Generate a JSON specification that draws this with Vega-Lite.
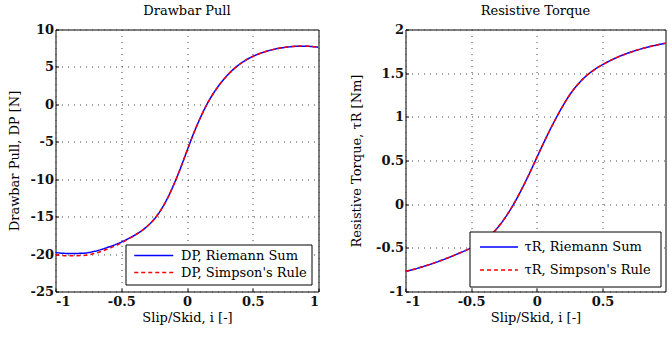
{
  "$schema": "https://vega.github.io/schema/vega-lite/v6.json",
  "padding": {"left": 7.5, "top": 3.5, "right": 0, "bottom": 0},
  "background": "white",
  "config": {
    "font": "DejaVu Serif",
    "view": {"stroke": "black", "strokeWidth": 1},
    "axis": {"labelFont": "DejaVu Serif", "labelFontSize": 13, "labelFontWeight": "bold", "labelColor": "#111", "titleFont": "DejaVu Serif", "titleFontSize": 13, "titleFontWeight": "normal", "titleColor": "black", "domain": false, "ticks": true, "tickSize": -3, "tickColor": "black", "gridColor": "#444", "gridDash": [1, 5], "gridWidth": 1, "gridOpacity": 1},
    "title": {"font": "DejaVu Serif", "fontSize": 13, "fontWeight": "normal", "color": "black", "anchor": "middle", "frame": "group", "baseline": "alphabetic", "offset": 6},
    "legend": {"labelFont": "DejaVu Serif", "labelFontSize": 13, "labelColor": "black", "labelLimit": 300, "strokeColor": "black", "fillColor": "white", "cornerRadius": 0, "symbolStrokeWidth": 1.5}
  },
  "datasets": {
    "dp": [
      {"i": -1, "v": -19.8, "s": "DP, Riemann Sum"},
      {"i": -0.9, "v": -19.92, "s": "DP, Riemann Sum"},
      {"i": -0.8, "v": -19.9, "s": "DP, Riemann Sum"},
      {"i": -0.7, "v": -19.62, "s": "DP, Riemann Sum"},
      {"i": -0.6, "v": -19.08, "s": "DP, Riemann Sum"},
      {"i": -0.5, "v": -18.4, "s": "DP, Riemann Sum"},
      {"i": -0.45, "v": -17.97, "s": "DP, Riemann Sum"},
      {"i": -0.4, "v": -17.5, "s": "DP, Riemann Sum"},
      {"i": -0.35, "v": -16.95, "s": "DP, Riemann Sum"},
      {"i": -0.3, "v": -16.25, "s": "DP, Riemann Sum"},
      {"i": -0.25, "v": -15.35, "s": "DP, Riemann Sum"},
      {"i": -0.2, "v": -14.15, "s": "DP, Riemann Sum"},
      {"i": -0.15, "v": -12.6, "s": "DP, Riemann Sum"},
      {"i": -0.1, "v": -10.7, "s": "DP, Riemann Sum"},
      {"i": -0.05, "v": -8.55, "s": "DP, Riemann Sum"},
      {"i": 0, "v": -6.2, "s": "DP, Riemann Sum"},
      {"i": 0.05, "v": -3.9, "s": "DP, Riemann Sum"},
      {"i": 0.1, "v": -1.85, "s": "DP, Riemann Sum"},
      {"i": 0.15, "v": -0.05, "s": "DP, Riemann Sum"},
      {"i": 0.2, "v": 1.45, "s": "DP, Riemann Sum"},
      {"i": 0.25, "v": 2.7, "s": "DP, Riemann Sum"},
      {"i": 0.3, "v": 3.76, "s": "DP, Riemann Sum"},
      {"i": 0.35, "v": 4.64, "s": "DP, Riemann Sum"},
      {"i": 0.4, "v": 5.36, "s": "DP, Riemann Sum"},
      {"i": 0.45, "v": 5.94, "s": "DP, Riemann Sum"},
      {"i": 0.5, "v": 6.4, "s": "DP, Riemann Sum"},
      {"i": 0.55, "v": 6.77, "s": "DP, Riemann Sum"},
      {"i": 0.6, "v": 7.07, "s": "DP, Riemann Sum"},
      {"i": 0.65, "v": 7.31, "s": "DP, Riemann Sum"},
      {"i": 0.7, "v": 7.49, "s": "DP, Riemann Sum"},
      {"i": 0.75, "v": 7.62, "s": "DP, Riemann Sum"},
      {"i": 0.8, "v": 7.72, "s": "DP, Riemann Sum"},
      {"i": 0.85, "v": 7.77, "s": "DP, Riemann Sum"},
      {"i": 0.9, "v": 7.77, "s": "DP, Riemann Sum"},
      {"i": 0.95, "v": 7.72, "s": "DP, Riemann Sum"},
      {"i": 1, "v": 7.63, "s": "DP, Riemann Sum"},
      {"i": -1, "v": -20.1, "s": "DP, Simpson's Rule"},
      {"i": -0.9, "v": -20.22, "s": "DP, Simpson's Rule"},
      {"i": -0.8, "v": -20.2, "s": "DP, Simpson's Rule"},
      {"i": -0.7, "v": -19.9, "s": "DP, Simpson's Rule"},
      {"i": -0.6, "v": -19.3, "s": "DP, Simpson's Rule"},
      {"i": -0.5, "v": -18.52, "s": "DP, Simpson's Rule"},
      {"i": -0.45, "v": -18.04, "s": "DP, Simpson's Rule"},
      {"i": -0.4, "v": -17.52, "s": "DP, Simpson's Rule"},
      {"i": -0.35, "v": -16.96, "s": "DP, Simpson's Rule"},
      {"i": -0.3, "v": -16.25, "s": "DP, Simpson's Rule"},
      {"i": -0.25, "v": -15.35, "s": "DP, Simpson's Rule"},
      {"i": -0.2, "v": -14.15, "s": "DP, Simpson's Rule"},
      {"i": -0.15, "v": -12.6, "s": "DP, Simpson's Rule"},
      {"i": -0.1, "v": -10.7, "s": "DP, Simpson's Rule"},
      {"i": -0.05, "v": -8.55, "s": "DP, Simpson's Rule"},
      {"i": 0, "v": -6.2, "s": "DP, Simpson's Rule"},
      {"i": 0.05, "v": -3.9, "s": "DP, Simpson's Rule"},
      {"i": 0.1, "v": -1.85, "s": "DP, Simpson's Rule"},
      {"i": 0.15, "v": -0.05, "s": "DP, Simpson's Rule"},
      {"i": 0.2, "v": 1.45, "s": "DP, Simpson's Rule"},
      {"i": 0.25, "v": 2.7, "s": "DP, Simpson's Rule"},
      {"i": 0.3, "v": 3.76, "s": "DP, Simpson's Rule"},
      {"i": 0.35, "v": 4.64, "s": "DP, Simpson's Rule"},
      {"i": 0.4, "v": 5.36, "s": "DP, Simpson's Rule"},
      {"i": 0.45, "v": 5.94, "s": "DP, Simpson's Rule"},
      {"i": 0.5, "v": 6.4, "s": "DP, Simpson's Rule"},
      {"i": 0.55, "v": 6.77, "s": "DP, Simpson's Rule"},
      {"i": 0.6, "v": 7.07, "s": "DP, Simpson's Rule"},
      {"i": 0.65, "v": 7.31, "s": "DP, Simpson's Rule"},
      {"i": 0.7, "v": 7.5, "s": "DP, Simpson's Rule"},
      {"i": 0.75, "v": 7.64, "s": "DP, Simpson's Rule"},
      {"i": 0.8, "v": 7.74, "s": "DP, Simpson's Rule"},
      {"i": 0.85, "v": 7.79, "s": "DP, Simpson's Rule"},
      {"i": 0.9, "v": 7.79, "s": "DP, Simpson's Rule"},
      {"i": 0.95, "v": 7.74, "s": "DP, Simpson's Rule"},
      {"i": 1, "v": 7.65, "s": "DP, Simpson's Rule"}
    ],
    "tau": [
      {"i": -1, "v": -0.772, "s": "τR, Riemann Sum"},
      {"i": -0.9, "v": -0.73, "s": "τR, Riemann Sum"},
      {"i": -0.8, "v": -0.683, "s": "τR, Riemann Sum"},
      {"i": -0.7, "v": -0.628, "s": "τR, Riemann Sum"},
      {"i": -0.6, "v": -0.567, "s": "τR, Riemann Sum"},
      {"i": -0.55, "v": -0.535, "s": "τR, Riemann Sum"},
      {"i": -0.5, "v": -0.5, "s": "τR, Riemann Sum"},
      {"i": -0.45, "v": -0.462, "s": "τR, Riemann Sum"},
      {"i": -0.4, "v": -0.414, "s": "τR, Riemann Sum"},
      {"i": -0.35, "v": -0.352, "s": "τR, Riemann Sum"},
      {"i": -0.3, "v": -0.272, "s": "τR, Riemann Sum"},
      {"i": -0.25, "v": -0.174, "s": "τR, Riemann Sum"},
      {"i": -0.2, "v": -0.059, "s": "τR, Riemann Sum"},
      {"i": -0.15, "v": 0.071, "s": "τR, Riemann Sum"},
      {"i": -0.1, "v": 0.216, "s": "τR, Riemann Sum"},
      {"i": -0.05, "v": 0.371, "s": "τR, Riemann Sum"},
      {"i": 0, "v": 0.533, "s": "τR, Riemann Sum"},
      {"i": 0.05, "v": 0.695, "s": "τR, Riemann Sum"},
      {"i": 0.1, "v": 0.85, "s": "τR, Riemann Sum"},
      {"i": 0.15, "v": 0.995, "s": "τR, Riemann Sum"},
      {"i": 0.2, "v": 1.13, "s": "τR, Riemann Sum"},
      {"i": 0.25, "v": 1.25, "s": "τR, Riemann Sum"},
      {"i": 0.3, "v": 1.35, "s": "τR, Riemann Sum"},
      {"i": 0.35, "v": 1.432, "s": "τR, Riemann Sum"},
      {"i": 0.4, "v": 1.498, "s": "τR, Riemann Sum"},
      {"i": 0.45, "v": 1.552, "s": "τR, Riemann Sum"},
      {"i": 0.5, "v": 1.597, "s": "τR, Riemann Sum"},
      {"i": 0.55, "v": 1.637, "s": "τR, Riemann Sum"},
      {"i": 0.6, "v": 1.673, "s": "τR, Riemann Sum"},
      {"i": 0.65, "v": 1.705, "s": "τR, Riemann Sum"},
      {"i": 0.7, "v": 1.733, "s": "τR, Riemann Sum"},
      {"i": 0.75, "v": 1.758, "s": "τR, Riemann Sum"},
      {"i": 0.8, "v": 1.78, "s": "τR, Riemann Sum"},
      {"i": 0.85, "v": 1.8, "s": "τR, Riemann Sum"},
      {"i": 0.9, "v": 1.818, "s": "τR, Riemann Sum"},
      {"i": 0.95, "v": 1.834, "s": "τR, Riemann Sum"},
      {"i": 1, "v": 1.848, "s": "τR, Riemann Sum"},
      {"i": -1, "v": -0.772, "s": "τR, Simpson's Rule"},
      {"i": -0.9, "v": -0.73, "s": "τR, Simpson's Rule"},
      {"i": -0.8, "v": -0.683, "s": "τR, Simpson's Rule"},
      {"i": -0.7, "v": -0.628, "s": "τR, Simpson's Rule"},
      {"i": -0.6, "v": -0.567, "s": "τR, Simpson's Rule"},
      {"i": -0.55, "v": -0.535, "s": "τR, Simpson's Rule"},
      {"i": -0.5, "v": -0.5, "s": "τR, Simpson's Rule"},
      {"i": -0.45, "v": -0.462, "s": "τR, Simpson's Rule"},
      {"i": -0.4, "v": -0.414, "s": "τR, Simpson's Rule"},
      {"i": -0.35, "v": -0.352, "s": "τR, Simpson's Rule"},
      {"i": -0.3, "v": -0.272, "s": "τR, Simpson's Rule"},
      {"i": -0.25, "v": -0.174, "s": "τR, Simpson's Rule"},
      {"i": -0.2, "v": -0.059, "s": "τR, Simpson's Rule"},
      {"i": -0.15, "v": 0.071, "s": "τR, Simpson's Rule"},
      {"i": -0.1, "v": 0.216, "s": "τR, Simpson's Rule"},
      {"i": -0.05, "v": 0.371, "s": "τR, Simpson's Rule"},
      {"i": 0, "v": 0.533, "s": "τR, Simpson's Rule"},
      {"i": 0.05, "v": 0.695, "s": "τR, Simpson's Rule"},
      {"i": 0.1, "v": 0.85, "s": "τR, Simpson's Rule"},
      {"i": 0.15, "v": 0.995, "s": "τR, Simpson's Rule"},
      {"i": 0.2, "v": 1.13, "s": "τR, Simpson's Rule"},
      {"i": 0.25, "v": 1.25, "s": "τR, Simpson's Rule"},
      {"i": 0.3, "v": 1.35, "s": "τR, Simpson's Rule"},
      {"i": 0.35, "v": 1.432, "s": "τR, Simpson's Rule"},
      {"i": 0.4, "v": 1.498, "s": "τR, Simpson's Rule"},
      {"i": 0.45, "v": 1.552, "s": "τR, Simpson's Rule"},
      {"i": 0.5, "v": 1.597, "s": "τR, Simpson's Rule"},
      {"i": 0.55, "v": 1.637, "s": "τR, Simpson's Rule"},
      {"i": 0.6, "v": 1.673, "s": "τR, Simpson's Rule"},
      {"i": 0.65, "v": 1.705, "s": "τR, Simpson's Rule"},
      {"i": 0.7, "v": 1.733, "s": "τR, Simpson's Rule"},
      {"i": 0.75, "v": 1.758, "s": "τR, Simpson's Rule"},
      {"i": 0.8, "v": 1.78, "s": "τR, Simpson's Rule"},
      {"i": 0.85, "v": 1.8, "s": "τR, Simpson's Rule"},
      {"i": 0.9, "v": 1.818, "s": "τR, Simpson's Rule"},
      {"i": 0.95, "v": 1.834, "s": "τR, Simpson's Rule"},
      {"i": 1, "v": 1.848, "s": "τR, Simpson's Rule"}
    ]
  },
  "spacing": 87,
  "bounds": "flush",
  "resolve": {"scale": {"color": "independent", "strokeDash": "independent"}, "legend": {"color": "independent", "strokeDash": "independent"}},
  "hconcat": [
    {
      "width": 263,
      "height": 262,
      "title": "Drawbar Pull",
      "data": {"name": "dp"},
      "mark": {"type": "line", "strokeWidth": 1.5, "interpolate": "monotone", "clip": true},
      "encoding": {
        "x": {"field": "i", "type": "quantitative", "scale": {"domain": [-1, 1], "nice": false}, "axis": {"values": [-1, -0.5, 0, 0.5, 1], "title": "Slip/Skid, i [-]", "labelFont": "DejaVu Serif", "labelExpr": "toString(datum.value)", "labelPadding": 7, "titlePadding": 3}},
        "y": {"field": "v", "type": "quantitative", "scale": {"domain": [-25, 10], "nice": false}, "axis": {"values": [-25, -20, -15, -10, -5, 0, 5, 10], "title": "Drawbar Pull, DP [N]", "labelFont": "DejaVu Serif", "labelExpr": "toString(datum.value)", "labelPadding": 5, "titlePadding": 9}},
        "color": {"field": "s", "type": "nominal", "scale": {"domain": ["DP, Riemann Sum", "DP, Simpson's Rule"], "range": ["#0000ff", "#ff0000"]}, "legend": {"title": null, "orient": "bottom-right", "offset": 7, "padding": 4.5, "rowPadding": 3, "symbolType": "M-0.45,0H7.35", "symbolSize": 100, "labelOffset": 38}},
        "strokeDash": {"field": "s", "type": "nominal", "scale": {"domain": ["DP, Riemann Sum", "DP, Simpson's Rule"], "range": [[1, 0], [4, 3]]}, "legend": {"title": null, "orient": "bottom-right", "offset": 7, "padding": 4.5, "rowPadding": 3, "symbolType": "M-0.45,0H7.35", "symbolSize": 100, "labelOffset": 38}}
      }
    },
    {
      "width": 260,
      "height": 262,
      "title": "Resistive Torque",
      "data": {"name": "tau"},
      "mark": {"type": "line", "strokeWidth": 1.5, "interpolate": "monotone", "clip": true},
      "encoding": {
        "x": {"field": "i", "type": "quantitative", "scale": {"domain": [-1, 0.98], "nice": false}, "axis": {"values": [-1, -0.5, 0, 0.5], "title": "Slip/Skid, i [-]", "labelFont": "DejaVu Serif", "labelExpr": "toString(datum.value)", "labelPadding": 7, "titlePadding": 3}},
        "y": {"field": "v", "type": "quantitative", "scale": {"domain": [-1, 2], "nice": false}, "axis": {"values": [-1, -0.5, 0, 0.5, 1, 1.5, 2], "title": "Resistive Torque, τR [Nm]", "labelFont": "DejaVu Serif", "labelExpr": "toString(datum.value)", "labelPadding": 5, "titlePadding": 12}},
        "color": {"field": "s", "type": "nominal", "scale": {"domain": ["τR, Riemann Sum", "τR, Simpson's Rule"], "range": ["#0000ff", "#ff0000"]}, "legend": {"title": null, "orient": "bottom-right", "offset": 5, "padding": 9, "rowPadding": 9, "symbolType": "M-1,0H6.6", "symbolSize": 100, "labelOffset": 33}},
        "strokeDash": {"field": "s", "type": "nominal", "scale": {"domain": ["τR, Riemann Sum", "τR, Simpson's Rule"], "range": [[1, 0], [4, 3]]}, "legend": {"title": null, "orient": "bottom-right", "offset": 5, "padding": 9, "rowPadding": 9, "symbolType": "M-1,0H6.6", "symbolSize": 100, "labelOffset": 33}}
      }
    }
  ]
}
